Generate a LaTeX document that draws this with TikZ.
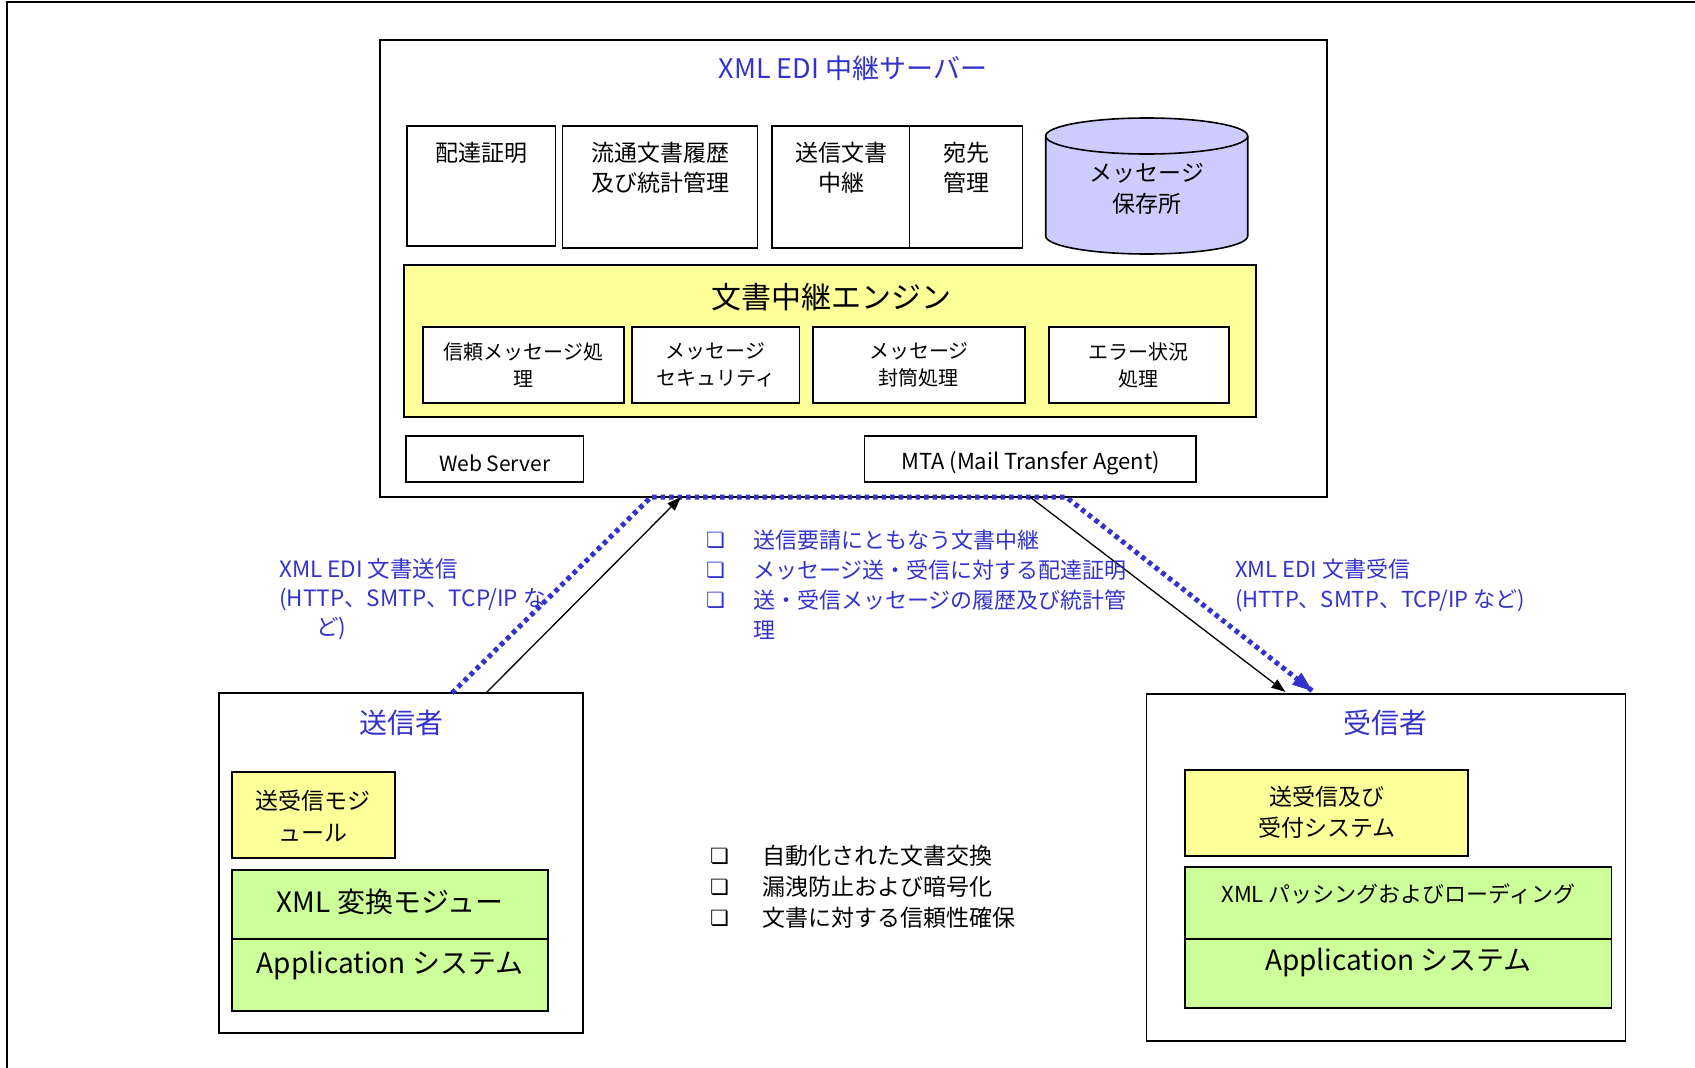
\documentclass[tikz,border=0pt]{standalone}
\usepackage{fontspec}
\setmainfont{Noto Sans CJK JP}
\newfontfamily\dingfont{DejaVu Sans}
\usetikzlibrary{arrows.meta,calc}
\definecolor{tblue}{RGB}{51,51,204}
\definecolor{pyellow}{RGB}{255,255,153}
\definecolor{pgreen}{RGB}{204,255,153}
\definecolor{plav}{RGB}{204,204,255}
\newcommand{\fsz}[2]{\fontsize{#1}{#2}\selectfont}
\newcommand{\bx}{{\dingfont\fontsize{21}{21}\selectfont ❏}}
\begin{document}
\begin{tikzpicture}[x=1pt,y=-1pt,
  box/.style={draw, line width=1.6pt, anchor=north west, inner sep=0pt, outer sep=0pt, fill=white},
  t/.style={align=center, inner sep=0pt},
  dotline/.style={draw=tblue, line width=5pt, dash pattern=on 4.5pt off 4pt},
  flow/.style={draw=black, line width=1.3pt, -{Triangle[length=14pt,width=10pt]}},
]
\useasboundingbox (0,0) rectangle (1695,1068);
\fill[white] (0,0) rectangle (1695,1068);
% outer frame
\coordinate (fTop) at (7,2); \coordinate (fEnd) at (1695,2); \coordinate (fBot) at (7,1068);
\draw[line width=2pt] (fBot) -- (fTop) -- (fEnd);

% server
\node[box, minimum width=947pt, minimum height=457pt] (server) at (380,40) {};
\node[t, text=tblue, font=\fsz{27}{30}] (stitle) at (853,68) {XML EDI 中継サーバー};

% top row
\node[box, minimum width=148.5pt, minimum height=120pt] (b1) at (407,126) {};
\node[box, minimum width=195pt, minimum height=122pt] (b2) at (562.5,126) {};
\node[box, minimum width=137.5pt, minimum height=122pt] (b3) at (772,126) {};
\node[box, minimum width=113pt, minimum height=122pt] (b4) at (909.5,126) {};
\node[t, font=\fsz{23}{30}] (b1t) at (481,153) {配達証明};
\node[t, font=\fsz{23}{30}] (b2t) at (660,168) {流通文書履歴\\及び統計管理};
\node[t, font=\fsz{23}{30}] (b3t) at (841,168) {送信文書\\中継};
\node[t, font=\fsz{23}{30}] (b4t) at (966,168) {宛先\\管理};

% cylinder
\draw[line width=1.6pt, fill=plav] (1045.7,136) -- (1045.7,236)
   arc[start angle=180, end angle=0, x radius=101, y radius=18] -- (1247.7,136);
\draw[line width=1.6pt, fill=plav] (1146.7,136) ellipse[x radius=101, y radius=18];
\node[t, font=\fsz{23}{31}] (store) at (1147,189) {メッセージ\\保存所};

% engine
\node[box, fill=pyellow, minimum width=852pt, minimum height=152pt] (engine) at (404,265) {};
\node[t, font=\fsz{30}{34}] (etitle) at (831,297) {文書中継エンジン};
\node[box, minimum width=200.5pt, minimum height=76pt] (e1) at (423.2,327) {};
\node[box, minimum width=167.7pt, minimum height=76pt] (e2) at (631.8,327) {};
\node[box, minimum width=211.7pt, minimum height=76pt] (e3) at (813,327) {};
\node[box, minimum width=180pt, minimum height=76pt] (e4) at (1048.8,327) {};
\node[t, font=\fsz{20}{27}] (e1t) at (523.5,365) {信頼メッセージ処\\理};
\node[t, font=\fsz{20}{27}] (e2t) at (715.6,365) {メッセージ\\セキュリティ};
\node[t, font=\fsz{20}{27}] (e3t) at (918.8,365) {メッセージ\\封筒処理};
\node[t, font=\fsz{20}{27}] (e4t) at (1138.8,365) {エラー状況\\処理};

% web / mta
\node[box, minimum width=177.6pt, minimum height=46pt] (web) at (405.9,436) {};
\node[box, minimum width=331.7pt, minimum height=46pt] (mta) at (864.4,436) {};
\node[t, font=\fsz{21}{24}] (webt) at (494.7,463) {Web Server};
\node[t, font=\fsz{22}{24}] (mtat) at (1030.6,463) {MTA (Mail Transfer Agent)};

% sender
\node[box, minimum width=364pt, minimum height=340pt] (sender) at (219,693) {};
\node[t, text=tblue, font=\fsz{28}{32}] (sendt) at (401,723) {送信者};
\node[box, fill=pyellow, minimum width=163pt, minimum height=86pt] (sy) at (232,772) {};
\node[t, font=\fsz{23}{32}] (syt) at (313,816) {送受信モジ\\ュール};
\node[box, fill=pgreen, minimum width=316pt, minimum height=69pt] (sg1) at (232,870) {};
\node[box, fill=pgreen, minimum width=316pt, minimum height=72pt] (sg2) at (232,939) {};
\node[t, font=\fsz{28}{32}] (sg1t) at (390,902) {XML 変換モジュー};
\node[t, font=\fsz{28}{32}] (sg2t) at (390,966) {Application システム};

% receiver
\node[box, minimum width=479pt, minimum height=347pt] (recv) at (1146.4,694) {};
\node[t, text=tblue, font=\fsz{28}{32}] (recvt) at (1385.6,723) {受信者};
\node[box, fill=pyellow, minimum width=283pt, minimum height=86pt] (ry) at (1185.2,770) {};
\node[t, font=\fsz{23}{31}] (ryt) at (1327,812) {送受信及び\\受付システム};
\node[box, fill=pgreen, minimum width=426.4pt, minimum height=72pt] (rg1) at (1185.2,867) {};
\node[box, fill=pgreen, minimum width=426.4pt, minimum height=69pt] (rg2) at (1185.2,939) {};
\node[t, font=\fsz{22}{26}] (rg1t) at (1398.4,894) {XML パッシングおよびローディング};
\node[t, font=\fsz{28}{32}] (rg2t) at (1398.4,963) {Application システム};

% connectors
\coordinate (dA) at ($(sender.north west)+(233,0)$);
\coordinate (dB) at (651,497);
\coordinate (dC) at (1066,497);
\coordinate (dD) at ($(recv.north west)+(166,-3)$);
\draw[dotline] (dA) -- (dB) -- (dC) -- (dD);
\draw[draw=tblue, line width=1pt, fill=tblue, -{Triangle[length=20pt,width=15pt]}] ($(dD)!22pt!(dC)$) -- (dD);

\coordinate (aS) at ($(sender.north west)+(267,0)$);
\coordinate (aT) at (681,497);
\draw[flow] (aS) -- (aT);
\coordinate (bS) at (1030,497);
\coordinate (bT) at ($(recv.north west)+(139,-2)$);
\draw[flow] (bS) -- (bT);

% labels
\node[t, align=left, anchor=west, text=tblue, font=\fsz{22.5}{29}] (lsend) at (279,599)
  {XML EDI 文書送信\\(HTTP、SMTP、TCP/IP な\\\hspace*{37pt}ど)};
\node[t, align=left, anchor=west, text=tblue, font=\fsz{22}{30}] (lrecv) at (1235,585)
  {XML EDI 文書受信\\(HTTP、SMTP、TCP/IP など)};

\node[t, align=left, anchor=west, text=tblue, font=\fsz{22}{30}] (mbul) at (706,570)
  {\bx\\\bx\\\bx};
\node[t, align=left, anchor=west, text=tblue, font=\fsz{22}{30}] (mtxt) at (753,585)
  {送信要請にともなう文書中継\\メッセージ送・受信に対する配達証明\\送・受信メッセージの履歴及び統計管\\理};

\node[t, align=left, anchor=west, font=\fsz{23}{31}] (bbul) at (710,887)
  {\bx\\\bx\\\bx};
\node[t, align=left, anchor=west, font=\fsz{23}{31}] (btxt) at (762,887)
  {自動化された文書交換\\漏洩防止および暗号化\\文書に対する信頼性確保};
\end{tikzpicture}
\end{document}
